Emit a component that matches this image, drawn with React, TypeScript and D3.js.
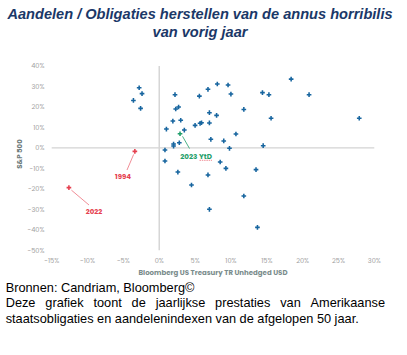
import React from "react";
import * as d3 from "d3";

const title = ["Aandelen / Obligaties herstellen van de annus horribilis", "van vorig jaar"];
const xTicks = [-15, -10, -5, 0, 5, 10, 15, 20, 25, 30];
const yTicks = [40, 30, 20, 10, 0, -10, -20, -30, -40, -50];
// Bloomberg US Treasury TR (x) and S&P 500 (y) annual returns, %
const bondReturns = [-3.6, -2.8, -2.4, -2.6, 2.2, 2.3, 2.7, 1.9, 3.0, 1.0, 3.5, 2.0, 2.0, 2.8, 0.8, 0.8, 2.6, 4.5, 5.6, 6.8, 8.1, 9.6, 10.0, 7.0, 8.0, 11.8, 5.0, 5.7, 5.9, 7.0, 10.7, 7.2, 9.0, 9.8, 8.5, 9.3, 6.8, 13.5, 11.8, 7.0, 13.7, 14.4, 14.5, 15.3, 18.4, 20.9, 15.6, 27.9];
const equityReturns = [23.2, 29.4, 26.5, 19.3, 26.0, 19.0, 20.0, 13.1, 13.5, 9.2, 8.7, 1.9, 0.9, 2.5, -1.0, -6.4, -11.8, -18.1, 25.3, 28.6, 31.2, 30.7, 26.3, 17.2, 15.9, 18.8, 11.0, 12.0, 12.3, 12.2, 6.8, 4.2, 3.4, -0.2, -6.9, -10.0, -13.2, -10.6, -23.5, -30.0, -38.8, 27.0, 1.1, 26.0, 33.6, 26.0, 14.5, 14.5];
const highlightLabels = ["1994", "2022"];
const highlightBond = [-3.4, -12.6];
const highlightEquity = [-1.7, -19.4];
const ytdLabel = "2023 YtD";
const ytdBond = 2.9;
const ytdEquity = 6.9;
const footSource = "Bronnen: Candriam, Bloomberg©";
const footLine1 = "Deze grafiek toont de jaarlijkse prestaties van Amerikaanse";
const footLine2 = "staatsobligaties en aandelenindexen van de afgelopen 50 jaar.";

const FOOT_FONT = "12.75px 'Liberation Sans', Arial, sans-serif";

function measure(text: string, font: string): number {
  const c = document.createElement("canvas");
  const ctx = c.getContext("2d")!;
  ctx.font = font;
  return ctx.measureText(text).width;
}

function Justified({ text, x0, x1, y }: { text: string; x0: number; x1: number; y: number }) {
  const words = text.split(" ");
  const widths = words.map((w) => measure(w, FOOT_FONT));
  const total = widths.reduce((a, b) => a + b, 0);
  const gap = (x1 - x0 - total) / (words.length - 1);
  let cx = x0;
  return (
    <g>
      {words.map((w, i) => {
        const el = (
          <text key={i} x={cx} y={y}>
            {w}
          </text>
        );
        cx += widths[i] + gap;
        return el;
      })}
    </g>
  );
}

export default function App() {
  const W = 407;
  const H = 355;
  const x = d3.scaleLinear().domain([-15, 30]).range([51.7, 374.3]);
  const y = d3.scaleLinear().domain([-50, 40]).range([250.3, 66]);
  const sym = d3.symbol().type(d3.symbolCross).size(12)();
  const chartFont = "Poppins, 'Open Sans', sans-serif";
  const blue = "#17659f";
  const red = "#e5404f";
  const green = "#1f9e6a";

  return (
    <svg width={W} height={H} style={{ position: "absolute", left: 0, top: 0, display: "block", background: "#fff" }}>
      <g fontFamily="'Liberation Sans', Arial, sans-serif" fontWeight="bold" fontStyle="italic" fontSize={14.6} fill="#1b3868" textAnchor="middle">
        <text x={200} y={18.5}>{title[0]}</text>
        <text x={200} y={36.8}>{title[1]}</text>
      </g>

      {/* zero lines */}
      <line x1={x(-15)} x2={x(30)} y1={y(0)} y2={y(0)} stroke="#c8c8c8" strokeWidth={1} />
      <line x1={x(0)} x2={x(0)} y1={y(40)} y2={y(-50)} stroke="#d6d6d6" strokeWidth={1.5} />

      {/* tick labels */}
      <g fontFamily={chartFont} fontSize={6.6} fill="#a0a0a0">
        {yTicks.map((t) => (
          <text key={"y" + t} x={44.5} y={y(t)} dy="0.35em" textAnchor="end">
            {t + "%"}
          </text>
        ))}
        {xTicks.map((t) => (
          <text key={"x" + t} x={x(t)} y={261} dy="0.35em" textAnchor="middle">
            {t + "%"}
          </text>
        ))}
      </g>

      {/* axis titles */}
      <text x={213} y={273} dy="0.35em" textAnchor="middle" fontFamily={chartFont} fontWeight="bold" fontSize={7} fill="#7a8c8c">
        Bloomberg US Treasury TR Unhedged USD
      </text>
      <text transform={`translate(20,154) rotate(-90)`} dy="0.35em" textAnchor="middle" fontFamily={chartFont} fontWeight="bold" fontSize={7} fill="#6f7c7c">
        S&amp;P 500
      </text>

      {/* points */}
      <g fill={blue}>
        {bondReturns.map((b, i) => (
          <path key={i} d={sym} transform={`translate(${x(b)},${y(equityReturns[i])})`} />
        ))}
      </g>

      {/* highlighted years */}
      <g fill={red} stroke="none">
        {highlightLabels.map((lab, i) => (
          <path key={lab} d={sym} transform={`translate(${x(highlightBond[i])},${y(highlightEquity[i])})`} />
        ))}
      </g>
      <line x1={x(highlightBond[0]) - 1.2} y1={y(highlightEquity[0]) + 3} x2={127} y2={170} stroke={red} strokeWidth={0.6} />
      <text x={123} y={176.7} dy="0.35em" textAnchor="middle" fontFamily={chartFont} fontWeight="bold" fontSize={7} fill={red}>
        {highlightLabels[0]}
      </text>
      <line x1={x(highlightBond[1]) + 2.5} y1={y(highlightEquity[1]) + 2.5} x2={89} y2={205} stroke={red} strokeWidth={0.6} />
      <text x={94} y={211.7} dy="0.35em" textAnchor="middle" fontFamily={chartFont} fontWeight="bold" fontSize={7} fill={red}>
        {highlightLabels[1]}
      </text>

      {/* 2023 YtD */}
      <path d={sym} transform={`translate(${x(ytdBond)},${y(ytdEquity)})`} fill={green} />
      <line x1={x(ytdBond) + 2.5} y1={y(ytdEquity) + 2.5} x2={189.5} y2={148.5} stroke={green} strokeWidth={0.8} />
      <text x={196} y={156} dy="0.35em" textAnchor="middle" fontFamily={chartFont} fontWeight="bold" fontSize={7.2} fill={green}>
        {ytdLabel}
      </text>
      <line x1={199.5} x2={212} y1={160.3} y2={160.3} stroke="#e5404f" strokeWidth={0.6} strokeDasharray="1.5,0.8" />

      {/* footnote */}
      <g fontFamily="'Liberation Sans', Arial, sans-serif" fontSize={12.75} fill="#000">
        <text x={5.7} y={291.5}>{footSource}</text>
        <Justified text={footLine1} x0={5.7} x1={385} y={307} />
        <text x={5.7} y={323}>{footLine2}</text>
      </g>
    </svg>
  );
}
